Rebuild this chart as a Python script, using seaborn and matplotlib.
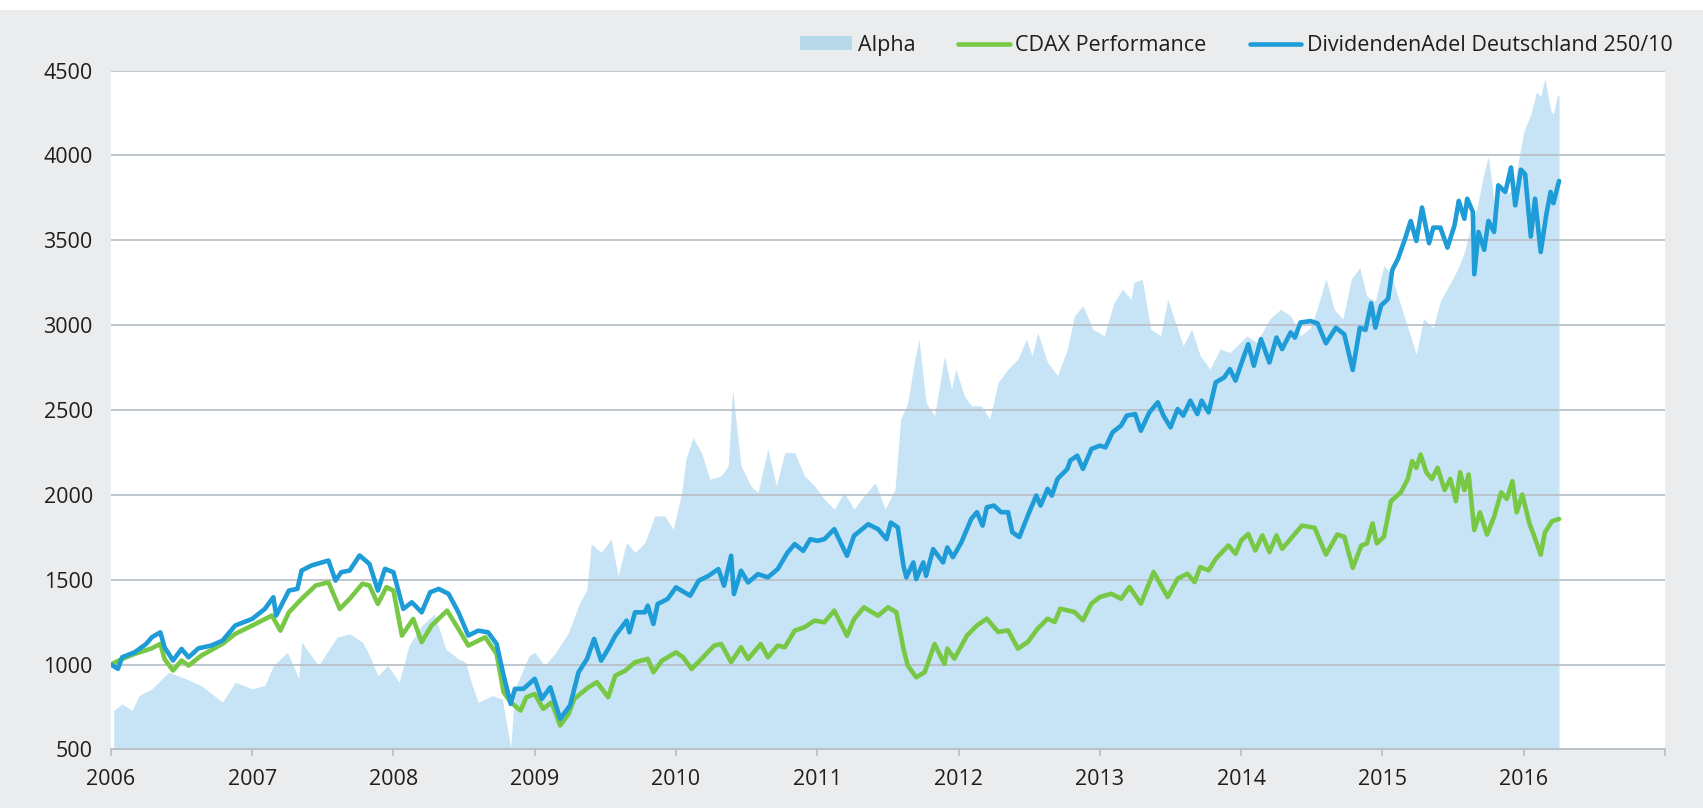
import matplotlib
matplotlib.use("Agg")
import matplotlib.pyplot as plt
from matplotlib.patches import Patch, Rectangle
from matplotlib.lines import Line2D
import seaborn as sns

# values (decimal years)
blue_x = [2006.00, 2006.05, 2006.08, 2006.17, 2006.25, 2006.29, 2006.35, 2006.38, 2006.44, 2006.50,
          2006.55, 2006.62, 2006.71, 2006.79, 2006.88, 2007.00, 2007.09, 2007.15, 2007.17, 2007.26,
          2007.32, 2007.35, 2007.42, 2007.54, 2007.59, 2007.63, 2007.69, 2007.76, 2007.83, 2007.89,
          2007.94, 2008.00, 2008.05, 2008.07, 2008.13, 2008.20, 2008.26, 2008.32, 2008.39, 2008.46,
          2008.53, 2008.60, 2008.67, 2008.73, 2008.78, 2008.83, 2008.86, 2008.92, 2009.00, 2009.05,
          2009.11, 2009.18, 2009.25, 2009.31, 2009.37, 2009.42, 2009.47, 2009.52, 2009.57, 2009.65,
          2009.67, 2009.71, 2009.78, 2009.80, 2009.84, 2009.87, 2009.94, 2010.00, 2010.10, 2010.16,
          2010.23, 2010.30, 2010.34, 2010.39, 2010.41, 2010.46, 2010.51, 2010.58, 2010.65, 2010.72,
          2010.79, 2010.84, 2010.90, 2010.95, 2011.00, 2011.05, 2011.12, 2011.21, 2011.26, 2011.36,
          2011.43, 2011.49, 2011.52, 2011.57, 2011.61, 2011.63, 2011.68, 2011.70, 2011.75, 2011.77,
          2011.82, 2011.89, 2011.92, 2011.96, 2012.02, 2012.09, 2012.13, 2012.17, 2012.20, 2012.25,
          2012.30, 2012.35, 2012.38, 2012.43, 2012.49, 2012.55, 2012.58, 2012.63, 2012.66, 2012.70,
          2012.77, 2012.79, 2012.84, 2012.88, 2012.94, 2013.00, 2013.04, 2013.09, 2013.15, 2013.19,
          2013.25, 2013.29, 2013.35, 2013.41, 2013.45, 2013.50, 2013.55, 2013.59, 2013.64, 2013.69,
          2013.72, 2013.77, 2013.82, 2013.88, 2013.92, 2013.96, 2014.00, 2014.05, 2014.09, 2014.14,
          2014.20, 2014.25, 2014.29, 2014.35, 2014.38, 2014.42, 2014.49, 2014.54, 2014.60, 2014.67,
          2014.73, 2014.79, 2014.84, 2014.88, 2014.92, 2014.95, 2014.99, 2015.04, 2015.07, 2015.11,
          2015.16, 2015.20, 2015.24, 2015.28, 2015.33, 2015.36, 2015.41, 2015.46, 2015.51, 2015.54,
          2015.58, 2015.60, 2015.64, 2015.65, 2015.68, 2015.72, 2015.75, 2015.79, 2015.82, 2015.87,
          2015.91, 2015.94, 2015.98, 2016.01, 2016.05, 2016.08, 2016.12, 2016.16, 2016.19, 2016.21,
          2016.25]
blue_y = [1000, 975, 1043, 1073, 1122, 1161, 1190, 1102, 1024, 1092,
          1043, 1096, 1112, 1141, 1230, 1269, 1328, 1397, 1289, 1436,
          1446, 1554, 1584, 1613, 1495, 1544, 1554, 1643, 1593, 1436,
          1564, 1544, 1387, 1328, 1367, 1308, 1426, 1446, 1417, 1308,
          1171, 1200, 1190, 1122, 935, 768, 857, 857, 916, 798,
          866, 680, 759, 955, 1033, 1151, 1023, 1092, 1170, 1259,
          1190, 1308, 1308, 1347, 1239, 1357, 1386, 1455, 1406, 1494,
          1523, 1563, 1465, 1641, 1416, 1553, 1484, 1533, 1514, 1563,
          1661, 1710, 1670, 1739, 1729, 1739, 1798, 1641, 1759, 1827,
          1798, 1739, 1837, 1808, 1582, 1514, 1602, 1504, 1602, 1523,
          1680, 1602, 1690, 1633, 1721, 1859, 1898, 1819, 1927, 1937,
          1898, 1898, 1780, 1751, 1878, 1996, 1937, 2035, 1996, 2094,
          2153, 2202, 2231, 2153, 2270, 2290, 2280, 2369, 2408, 2467,
          2476, 2378, 2486, 2545, 2467, 2398, 2506, 2467, 2555, 2476,
          2555, 2486, 2663, 2692, 2741, 2673, 2771, 2888, 2761, 2918,
          2780, 2927, 2859, 2957, 2927, 3016, 3024, 3011, 2893, 2985,
          2946, 2736, 2985, 2972, 3129, 2985, 3116, 3155, 3326, 3391,
          3509, 3614, 3496, 3693, 3483, 3575, 3575, 3457, 3588, 3732,
          3627, 3745, 3667, 3300, 3549, 3444, 3614, 3549, 3824, 3785,
          3929, 3706, 3916, 3889, 3522, 3745, 3431, 3653, 3785, 3719,
          3850]

green_x = [2006.00, 2006.08, 2006.17, 2006.29, 2006.35, 2006.38, 2006.44, 2006.50, 2006.55, 2006.64,
           2006.79, 2006.88, 2007.00, 2007.14, 2007.20, 2007.26, 2007.35, 2007.45, 2007.54, 2007.62,
           2007.69, 2007.78, 2007.83, 2007.89, 2007.95, 2008.00, 2008.06, 2008.14, 2008.20, 2008.27,
           2008.38, 2008.46, 2008.53, 2008.65, 2008.73, 2008.78, 2008.83, 2008.90, 2008.94, 2009.00,
           2009.06, 2009.12, 2009.18, 2009.24, 2009.28, 2009.38, 2009.44, 2009.52, 2009.57, 2009.64,
           2009.71, 2009.80, 2009.84, 2009.90, 2010.00, 2010.05, 2010.11, 2010.18, 2010.27, 2010.32,
           2010.39, 2010.46, 2010.51, 2010.60, 2010.65, 2010.72, 2010.77, 2010.84, 2010.91, 2010.98,
           2011.05, 2011.12, 2011.21, 2011.26, 2011.33, 2011.43, 2011.50, 2011.56, 2011.61, 2011.64,
           2011.70, 2011.76, 2011.83, 2011.90, 2011.92, 2011.97, 2012.06, 2012.13, 2012.20, 2012.28,
           2012.35, 2012.42, 2012.49, 2012.56, 2012.63, 2012.68, 2012.72, 2012.82, 2012.88, 2012.94,
           2013.00, 2013.08, 2013.15, 2013.21, 2013.29, 2013.38, 2013.48, 2013.55, 2013.62, 2013.67,
           2013.71, 2013.77, 2013.82, 2013.91, 2013.96, 2014.00, 2014.05, 2014.10, 2014.15, 2014.20,
           2014.25, 2014.29, 2014.35, 2014.43, 2014.52, 2014.60, 2014.68, 2014.73, 2014.79, 2014.85,
           2014.89, 2014.93, 2014.96, 2015.01, 2015.06, 2015.13, 2015.18, 2015.21, 2015.24, 2015.27,
           2015.31, 2015.35, 2015.39, 2015.44, 2015.48, 2015.52, 2015.55, 2015.58, 2015.61, 2015.65,
           2015.69, 2015.74, 2015.79, 2015.84, 2015.88, 2015.92, 2015.95, 2015.99, 2016.04, 2016.07,
           2016.12, 2016.15, 2016.20, 2016.25]
green_y = [1000, 1033, 1063, 1096, 1122, 1033, 965, 1024, 994, 1053,
           1122, 1181, 1230, 1289, 1200, 1308, 1387, 1466, 1485, 1328,
           1387, 1476, 1466, 1357, 1456, 1436, 1171, 1269, 1132, 1230,
           1318, 1210, 1112, 1161, 1063, 837, 778, 729, 807, 827,
           739, 778, 641, 710, 798, 866, 896, 808, 935, 964,
           1014, 1033, 955, 1023, 1072, 1043, 974, 1033, 1112, 1121,
           1014, 1102, 1033, 1121, 1043, 1112, 1102, 1200, 1220, 1259,
           1249, 1318, 1170, 1268, 1337, 1288, 1337, 1308, 1092, 994,
           925, 955, 1121, 1004, 1094, 1035, 1172, 1231, 1270, 1192,
           1202, 1094, 1133, 1212, 1270, 1251, 1329, 1310, 1261, 1359,
           1398, 1417, 1388, 1457, 1359, 1545, 1398, 1506, 1535, 1486,
           1574, 1555, 1623, 1702, 1653, 1731, 1770, 1672, 1761, 1663,
           1761, 1682, 1741, 1819, 1806, 1648, 1766, 1753, 1570, 1701,
           1714, 1832, 1714, 1753, 1963, 2015, 2094, 2199, 2159, 2238,
           2133, 2094, 2159, 2028, 2094, 1963, 2133, 2028, 2120, 1793,
           1897, 1766, 1871, 2015, 1976, 2081, 1897, 2002, 1832, 1766,
           1648, 1779, 1845, 1858]

alpha_x = [2006.02, 2006.08, 2006.15, 2006.20, 2006.29, 2006.41, 2006.53, 2006.64, 2006.79, 2006.88,
           2007.00, 2007.09, 2007.15, 2007.25, 2007.33, 2007.35, 2007.47, 2007.60, 2007.69, 2007.78,
           2007.82, 2007.89, 2007.96, 2008.04, 2008.11, 2008.20, 2008.29, 2008.37, 2008.46, 2008.51,
           2008.55, 2008.60, 2008.70, 2008.77, 2008.83, 2008.86, 2008.96, 2009.00, 2009.07, 2009.15,
           2009.24, 2009.31, 2009.37, 2009.40, 2009.47, 2009.54, 2009.59, 2009.65, 2009.71, 2009.78,
           2009.85, 2009.92, 2009.98, 2010.04, 2010.07, 2010.12, 2010.18, 2010.24, 2010.32, 2010.37,
           2010.40, 2010.46, 2010.53, 2010.58, 2010.65, 2010.71, 2010.77, 2010.84, 2010.91, 2010.98,
           2011.05, 2011.12, 2011.19, 2011.26, 2011.33, 2011.41, 2011.48, 2011.55, 2011.59, 2011.64,
           2011.69, 2011.72, 2011.77, 2011.83, 2011.90, 2011.95, 2011.98, 2012.04, 2012.09, 2012.16,
           2012.22, 2012.28, 2012.35, 2012.42, 2012.48, 2012.52, 2012.56, 2012.63, 2012.70, 2012.77,
           2012.82, 2012.88, 2012.95, 2013.03, 2013.10, 2013.16, 2013.22, 2013.24, 2013.30, 2013.36,
           2013.43, 2013.48, 2013.55, 2013.59, 2013.65, 2013.71, 2013.78, 2013.85, 2013.92, 2013.97,
           2014.04, 2014.11, 2014.20, 2014.28, 2014.35, 2014.42, 2014.49, 2014.54, 2014.60, 2014.66,
           2014.72, 2014.78, 2014.84, 2014.89, 2014.95, 2015.01, 2015.06, 2015.13, 2015.18, 2015.24,
           2015.29, 2015.36, 2015.41, 2015.48, 2015.53, 2015.58, 2015.62, 2015.67, 2015.72, 2015.75,
           2015.79, 2015.84, 2015.88, 2015.93, 2015.96, 2016.00, 2016.05, 2016.09, 2016.12, 2016.15,
           2016.19, 2016.21, 2016.24, 2016.25]
alpha_y = [729, 768, 729, 817, 857, 955, 916, 876, 778, 896,
           857, 876, 994, 1073, 916, 1132, 994, 1161, 1181, 1132,
           1073, 935, 994, 896, 1112, 1230, 1299, 1092, 1033, 1014,
           896, 778, 817, 797, 510, 857, 1053, 1072, 994, 1072,
           1190, 1347, 1445, 1710, 1661, 1739, 1523, 1719, 1661, 1719,
           1876, 1876, 1798, 2014, 2210, 2337, 2249, 2092, 2112, 2171,
           2620, 2171, 2053, 2014, 2269, 2053, 2249, 2249, 2112, 2053,
           1974, 1916, 2014, 1916, 1994, 2072, 1916, 2033, 2445, 2543,
           2798, 2916, 2543, 2465, 2818, 2623, 2741, 2584, 2525, 2525,
           2447, 2663, 2741, 2800, 2918, 2820, 2957, 2780, 2702, 2859,
           3055, 3114, 2976, 2937, 3133, 3212, 3153, 3251, 3271, 2976,
           2937, 3153, 2976, 2878, 2976, 2820, 2741, 2859, 2839, 2878,
           2937, 2898, 3035, 3094, 3055, 2937, 2985, 3103, 3273, 3090,
           3037, 3273, 3339, 3169, 3142, 3352, 3300, 3116, 2985, 2828,
           3037, 2985, 3142, 3247, 3326, 3431, 3562, 3693, 3902, 3994,
           3719, 3824, 3772, 3798, 3955, 4138, 4243, 4374, 4348, 4453,
           4269, 4243, 4361, 4348]

years = list(range(2006, 2018))
year_labels = [str(y) for y in range(2006, 2017)] + [""]
y_ticks = [500, 1000, 1500, 2000, 2500, 3000, 3500, 4000, 4500]

BG = "#ebecee"
GRID = "#bac1c8"
BLUE = "#1e9cd8"
GREEN = "#78c846"
FILL = "#c6e4f5"
TEXT = "#1e1e1e"
FS = 15.5

sns.set_theme(style="white")
plt.rcParams["font.family"] = ["Open Sans", "DejaVu Sans"]

fig = plt.figure(figsize=(17.03, 8.08), dpi=100, facecolor="white")
fig.patches.append(Rectangle((0, 0), 1, 1 - 10 / 808, transform=fig.transFigure,
                             facecolor=BG, edgecolor="none", zorder=-10))
ax = fig.add_axes([0.0651, 0.0725, 0.9126, 0.8401])
ax.set_facecolor("white")

ax.fill_between(alpha_x, 500, alpha_y, color=FILL, linewidth=0, zorder=1)
sns.lineplot(x=green_x, y=green_y, color=GREEN, linewidth=3.3, estimator=None,
             ax=ax, zorder=3)
sns.lineplot(x=blue_x, y=blue_y, color=BLUE, linewidth=3.3, estimator=None,
             ax=ax, zorder=4)

ax.set_xlim(2006, 2017)
ax.set_ylim(500, 4500)
ax.set_xticks(years)
ax.set_xticklabels(year_labels)
ax.set_yticks(y_ticks)
ax.set_yticklabels([str(v) for v in y_ticks])
ax.set_axisbelow(False)
ax.yaxis.grid(True, color=GRID, linewidth=1.3)
ax.xaxis.grid(False)
for side in ["left", "right", "top"]:
    ax.spines[side].set_visible(False)
ax.spines["bottom"].set_color(GRID)
ax.spines["bottom"].set_linewidth(1.3)
ax.tick_params(axis="x", bottom=True, length=4.8, width=1.3, color=GRID,
               labelsize=FS, labelcolor=TEXT, pad=9.5)
ax.tick_params(axis="y", left=False, length=0, labelsize=FS, labelcolor=TEXT, pad=13)
ax.set_xlabel("")
ax.set_ylabel("")

handles = [Patch(facecolor="#b8d9ea", edgecolor="none"),
           Line2D([], [], color=GREEN, linewidth=3.3),
           Line2D([], [], color=BLUE, linewidth=3.3)]
labels = ["Alpha", "CDAX Performance", "DividendenAdel Deutschland 250/10"]
fig.legend(handles, labels, loc="center right", bbox_to_anchor=(0.982, 0.944),
           ncol=3, frameon=False, fontsize=FS, handlelength=2.4, handleheight=0.6,
           handletextpad=0.25, columnspacing=2.0, labelcolor=TEXT,
           borderpad=0, borderaxespad=0)

fig.savefig("out.png", dpi=100, facecolor=fig.get_facecolor())
